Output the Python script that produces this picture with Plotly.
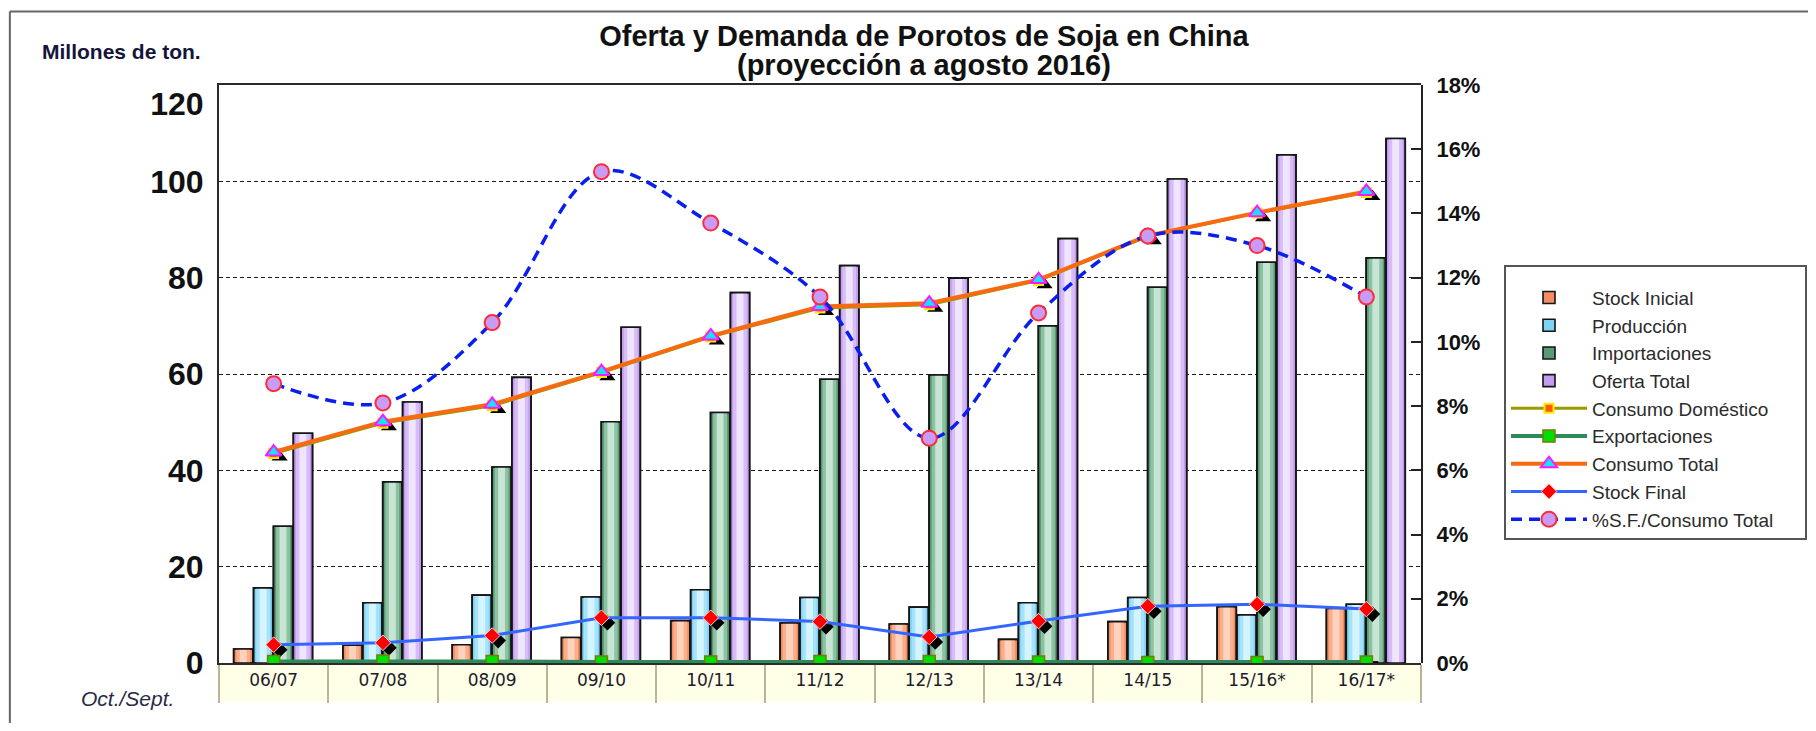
import plotly.graph_objects as go

# ---------------- data ----------------
categories = ["06/07", "07/08", "08/09", "09/10", "10/11", "11/12",
              "12/13", "13/14", "14/15", "15/16*", "16/17*"]

stock_inicial = [2.9, 3.7, 3.8, 5.3, 8.8, 8.3, 8.1, 4.9, 8.6, 11.7, 11.3]
produccion = [15.6, 12.5, 14.1, 13.7, 15.2, 13.6, 11.6, 12.5, 13.6, 10.0, 12.2]
importaciones = [28.4, 37.6, 40.7, 50.1, 52.0, 58.9, 59.8, 70.0, 78.0, 83.2, 84.1]
oferta_total = [47.7, 54.2, 59.3, 69.7, 76.9, 82.5, 79.9, 88.1, 100.5, 105.5, 108.9]

consumo_domestico = [43.5, 49.8, 53.4, 60.3, 67.7, 73.7, 74.4, 79.4, 88.6, 93.4, 97.7]
exportaciones = [0.3, 0.4, 0.3, 0.2, 0.2, 0.3, 0.3, 0.2, 0.1, 0.1, 0.2]
consumo_total = [43.8, 50.1, 53.7, 60.5, 67.9, 74.0, 74.7, 79.6, 88.7, 93.5, 97.9]
stock_final = [3.8, 4.2, 5.7, 9.4, 9.4, 8.6, 5.4, 8.7, 11.8, 12.2, 11.2]
pct_sf_consumo = [8.7, 8.1, 10.6, 15.3, 13.7, 11.4, 7.0, 10.9, 13.3, 13.0, 11.4]

left_tick_vals = [0, 20, 40, 60, 80, 100, 116]
left_tick_text = ["0", "20", "40", "60", "80", "100", "120"]
left_grid_vals = [20, 40, 60, 80, 100]

# ---------------- styling ----------------
FONT = "Liberation Sans, Arial, sans-serif"
NB = "\u00a0" * 5  # widens the legend box like the original
bar_specs = [
    ("Stock Inicial", stock_inicial, "#F48C62", "#F9AE8C", "#FFD2BD"),
    ("Producción", produccion, "#7FD3F4", "#A6E3FA", "#D4F5FF"),
    ("Importaciones", importaciones, "#5A9B76", "#8DC1A3", "#C6E6D3"),
    ("Oferta Total", oferta_total, "#C29CEE", "#D7BCF7", "#F0E5FF"),
]
bar_offsets = [-0.366, -0.184, -0.002, 0.180]
bar_w = 0.176

fig = go.Figure()

# bars (subplot x/y)
for (name, vals, c_base, c_mid, c_light), off in zip(bar_specs, bar_offsets):
    fig.add_trace(go.Bar(name=name, x=categories, y=vals, offset=off, width=bar_w,
                         marker=dict(color=c_base, line=dict(color="#151515", width=1.6)),
                         xaxis="x", yaxis="y"))
    fig.add_trace(go.Bar(x=categories, y=vals, offset=off + bar_w * 0.14, width=bar_w * 0.72,
                         marker=dict(color=c_mid, line=dict(width=0)),
                         showlegend=False, hoverinfo="skip", xaxis="x", yaxis="y"))
    fig.add_trace(go.Bar(x=categories, y=vals, offset=off + bar_w * 0.32, width=bar_w * 0.36,
                         marker=dict(color=c_light, line=dict(width=0)),
                         showlegend=False, hoverinfo="skip", xaxis="x", yaxis="y"))
    fig.add_trace(go.Bar(x=categories, y=vals, offset=off, width=bar_w,
                         marker=dict(color="rgba(0,0,0,0)", line=dict(color="#151515", width=1.6)),
                         showlegend=False, hoverinfo="skip", xaxis="x", yaxis="y"))

# marker drop shadows (subplot x2/y2: same scale, shifted a few px right/down)
for vals, sym, size in [(exportaciones, "square", 12),
                        (consumo_total, "triangle-up", 14),
                        (stock_final, "diamond", 12)]:
    fig.add_trace(go.Scatter(x=categories, y=vals, mode="markers",
                             marker=dict(symbol=sym, size=size, color="#000000"),
                             showlegend=False, hoverinfo="skip", xaxis="x2", yaxis="y2"))

# lines (subplot x3/y3, and right axis y4)
fig.add_trace(go.Scatter(name="Consumo Doméstico", x=categories, y=consumo_domestico,
                         mode="lines+markers",
                         line=dict(color="#9A9A00", width=3),
                         marker=dict(symbol="square", size=9, color="#FF5A00",
                                     line=dict(color="#FFE800", width=2)),
                         xaxis="x3", yaxis="y3"))
fig.add_trace(go.Scatter(name="Exportaciones", x=categories, y=exportaciones,
                         mode="lines+markers",
                         line=dict(color="#2E8B57", width=4),
                         marker=dict(symbol="square", size=12, color="#00E000",
                                     line=dict(color="#7A7A00", width=1.5)),
                         xaxis="x3", yaxis="y3"))
fig.add_trace(go.Scatter(name="Consumo Total", x=categories, y=consumo_total,
                         mode="lines+markers",
                         line=dict(color="#F76A12", width=4),
                         marker=dict(symbol="triangle-up", size=14, color="#18E0FF",
                                     line=dict(color="#FF18FF", width=2)),
                         xaxis="x3", yaxis="y3"))
fig.add_trace(go.Scatter(name="Stock Final", x=categories, y=stock_final,
                         mode="lines+markers",
                         line=dict(color="#3366FF", width=3),
                         marker=dict(symbol="diamond", size=12, color="#FF0000",
                                     line=dict(color="#FFD0D0", width=1)),
                         xaxis="x3", yaxis="y3"))
fig.add_trace(go.Scatter(name="%S.F./Consumo Total" + NB, x=categories, y=pct_sf_consumo,
                         mode="lines+markers",
                         line=dict(color="#0A1EEE", width=3.5, dash="11px,7px",
                                   shape="spline", smoothing=1.0),
                         marker=dict(symbol="circle", size=15, color="#C89CF6",
                                     line=dict(color="#FF2A3A", width=2)),
                         xaxis="x3", yaxis="y4"))

# the page adds an 8px body margin, so the figure is laid out a bit smaller
W, H = 1800, 715
fig.update_layout(
    width=W, height=H,
    margin=dict(l=211, r=W - 1413, t=77, b=60, autoexpand=False),
    paper_bgcolor="white", plot_bgcolor="rgba(0,0,0,0)",
    barmode="overlay",
    font=dict(family=FONT, color="#111111"),
    title=dict(text="Oferta y Demanda de Porotos de Soja en China",
               font=dict(family=FONT, size=29, color="#111111", weight="bold"),
               x=916 / W, xref="container", xanchor="center",
               y=1 - 28 / H, yref="container", yanchor="middle"),
    xaxis=dict(type="category", categoryorder="array", categoryarray=categories,
               range=[-0.5, 10.5], domain=[0, 1], anchor="y",
               showgrid=False, zeroline=False,
               showline=True, linecolor="#2a2a2a", linewidth=2, mirror=True,
               ticks="outside", tickson="boundaries", ticklen=38, tickwidth=2,
               tickcolor="#B5B598", showticklabels=False),
    yaxis=dict(range=[0, 120], domain=[0, 1], anchor="x",
               tickvals=left_tick_vals, ticktext=left_tick_text,
               showgrid=False, zeroline=False,
               minor=dict(tickvals=left_grid_vals, showgrid=True, gridcolor="#1a1a1a",
                          gridwidth=1.2, griddash="4px,3px", ticks=""),
               showline=True, linecolor="#2a2a2a", linewidth=2,
               ticks="", ticklabelstandoff=7,
               tickfont=dict(family=FONT, size=32, color="#111111", weight="bold")),
    xaxis2=dict(type="category", categoryorder="array", categoryarray=categories,
                range=[-0.5 - 0.055, 10.5 - 0.055], domain=[0, 1], anchor="y2",
                visible=False),
    yaxis2=dict(range=[1.05, 121.05], domain=[0, 1], anchor="x2", visible=False),
    xaxis3=dict(type="category", categoryorder="array", categoryarray=categories,
                range=[-0.5, 10.5], domain=[0, 1], anchor="y3",
                showgrid=False, zeroline=False, showline=False, ticks="",
                ticklabelstandoff=5,
                tickfont=dict(family="DejaVu Sans, Verdana, sans-serif", size=17,
                              color="#1c1c2c")),
    yaxis3=dict(range=[0, 120], domain=[0, 1], anchor="x3", visible=False),
    yaxis4=dict(range=[0, 18], overlaying="y3", side="right", anchor="x3",
                tick0=0, dtick=2, ticksuffix="%",
                showgrid=False, zeroline=False,
                showline=True, linecolor="#222222", linewidth=2,
                ticks="inside", ticklen=10, tickwidth=1.5, tickcolor="#222222",
                ticklabelstandoff=9,
                tickfont=dict(family=FONT, size=22, color="#111111", weight="bold")),
    legend=dict(x=1496 / W, y=1 - 257 / H, xref="container", yref="container",
                xanchor="left", yanchor="top",
                bgcolor="white", bordercolor="#555555", borderwidth=2,
                font=dict(family=FONT, size=19, color="#2b2b2b"),
                title=dict(text=" ", font=dict(size=9)),
                itemwidth=76, traceorder="normal"),
    showlegend=True,
)

# second title line
fig.add_annotation(text="(proyección a agosto 2016)", xref="paper", yref="paper",
                   x=(916 - 211) / 1202, y=(655 - 57) / 578, showarrow=False,
                   xanchor="center", yanchor="middle",
                   font=dict(family=FONT, size=29, color="#111111", weight="bold"))

# category cell strip under the x axis, and the outer frame (top and left edges)
fig.add_shape(type="rect", xref="x domain", yref="y domain", x0=0, x1=1, y0=-0.066, y1=0,
              fillcolor="#FFFFE8", line=dict(width=0), layer="below")
fig.add_shape(type="line", xref="paper", yref="paper", x0=-0.174, x1=1.6, y0=1.127, y1=1.127,
              line=dict(color="#666666", width=2), layer="above")
fig.add_shape(type="line", xref="paper", yref="paper", x0=-0.174, x1=-0.174, y0=-0.5, y1=1.127,
              line=dict(color="#666666", width=2), layer="above")

fig.add_annotation(text="Millones de ton.", xref="paper", yref="paper",
                   x=-0.0815, y=1.0588, showarrow=False, xanchor="center", yanchor="middle",
                   font=dict(family=FONT, size=21, color="#15153a", weight="bold"))
fig.add_annotation(text="Oct./Sept.", xref="paper", yref="paper",
                   x=-0.0765, y=-0.0606, showarrow=False, xanchor="center", yanchor="middle",
                   font=dict(family=FONT, size=21, color="#2a2a44", style="italic"))

fig.write_html("out.html")
